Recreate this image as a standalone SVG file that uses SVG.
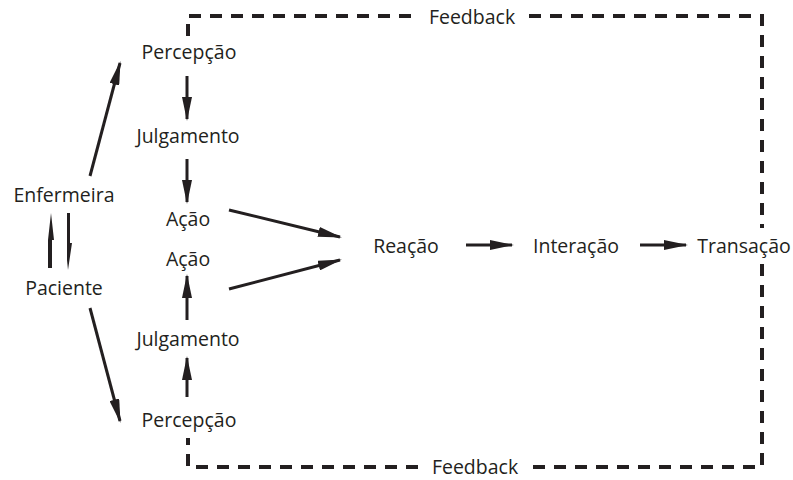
<svg xmlns="http://www.w3.org/2000/svg" width="793" height="480" viewBox="0 0 793 480">
<defs>
<marker id="ah" markerWidth="24" markerHeight="10" refX="22" refY="5" orient="auto" markerUnits="userSpaceOnUse"><path d="M0,0 L24,5 L0,10 Z" fill="#231f20"/></marker>
<style>
text{font-family:"Open Sans","Liberation Sans",sans-serif;font-size:19.5px;fill:#231f20;text-anchor:middle}
.c{stroke:#231f20;stroke-width:3;fill:none}
.d{stroke:#231f20;stroke-width:4;fill:none;stroke-dasharray:12,9}
</style>
</defs>
<rect width="793" height="480" fill="#fff"/>
<g id="connectors">
<path class="d" d="M188,36 V16 H418"/>
<path class="d" d="M529,16 H762 V228"/>
<path class="d" d="M762,264 V467 H532"/>
<path class="d" d="M418,467 H188 V438"/>
<line class="c" x1="90" y1="176" x2="120" y2="63" marker-end="url(#ah)"/>
<line class="c" x1="90" y1="308" x2="120" y2="421" marker-end="url(#ah)"/>
<line class="c" x1="187" y1="76" x2="187" y2="119" marker-end="url(#ah)"/>
<line class="c" x1="187" y1="159" x2="187" y2="202" marker-end="url(#ah)"/>
<line class="c" x1="187" y1="397" x2="187" y2="358" marker-end="url(#ah)"/>
<line class="c" x1="187" y1="320" x2="187" y2="276" marker-end="url(#ah)"/>
<line class="c" x1="229" y1="210" x2="340" y2="237" marker-end="url(#ah)"/>
<line class="c" x1="229" y1="289" x2="340" y2="260" marker-end="url(#ah)"/>
<line class="c" x1="466" y1="245" x2="512" y2="245" marker-end="url(#ah)"/>
<line class="c" x1="640" y1="245" x2="686" y2="245" marker-end="url(#ah)"/>
<path d="M48,268 V240 L51,213 L54,240 L52,240 V268 Z" fill="#231f20"/>
<path d="M67,213 V260 L68,270 L72,243 L70,243 V213 Z" fill="#231f20"/>
</g>
<g id="feedback-top"><text x="472" y="24">Feedback</text></g>
<g id="feedback-bottom"><text x="475" y="474">Feedback</text></g>
<g id="percepcao1"><text x="189" y="59">Percepção</text></g>
<g id="julgamento1"><text x="188" y="143">Julgamento</text></g>
<g id="acao1"><text x="188" y="226">Ação</text></g>
<g id="acao2"><text x="188" y="266">Ação</text></g>
<g id="julgamento2"><text x="188" y="346">Julgamento</text></g>
<g id="percepcao2"><text x="189" y="427">Percepção</text></g>
<g id="enfermeira"><text x="64" y="202">Enfermeira</text></g>
<g id="paciente"><text x="64" y="295">Paciente</text></g>
<g id="reacao"><text x="406" y="253">Reação</text></g>
<g id="interacao"><text x="576" y="253">Interação</text></g>
<g id="transacao"><text x="744" y="253">Transação</text></g>
</svg>
